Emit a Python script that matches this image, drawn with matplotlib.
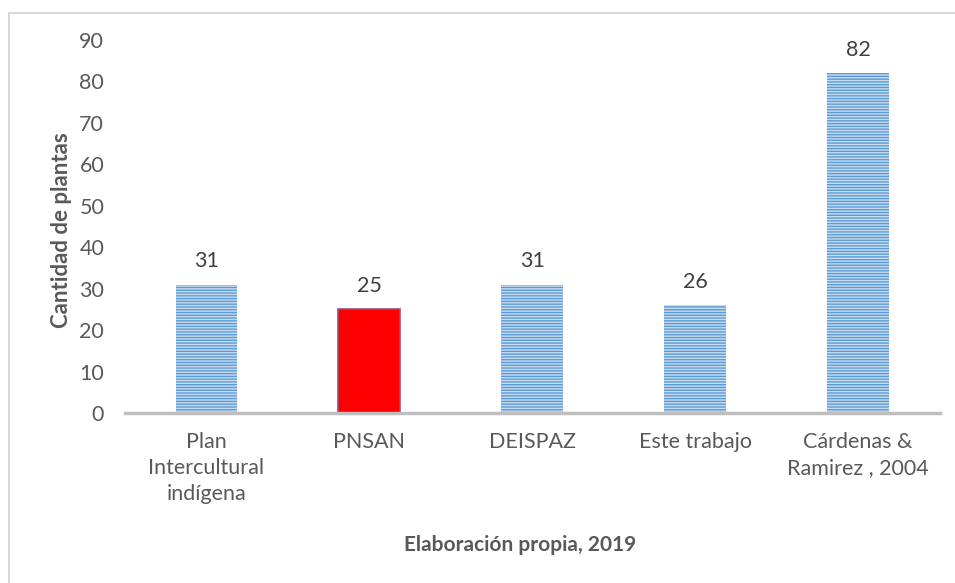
import matplotlib.pyplot as plt
from matplotlib.patches import Rectangle

# data
categories = ['Plan\nIntercultural\nindígena', 'PNSAN', 'DEISPAZ', 'Este trabajo',
              'Cárdenas &\nRamirez , 2004']
plant_counts = [31, 25, 31, 26, 82]
y_ticks = [0, 10, 20, 30, 40, 50, 60, 70, 80, 90]

plt.rcParams['font.family'] = ['Lato', 'DejaVu Sans']

fig = plt.figure(figsize=(9.55, 5.83), dpi=100)
ax = fig.add_axes([0.1309, 0.2916, 0.853, 0.6398])

# outer chart border (only top and left visible in the reference)
fig.patches.append(Rectangle((9 / 955, -0.1), 1.2, 1 - 13 / 583 + 0.1,
                             transform=fig.transFigure, fill=False,
                             edgecolor='#D9D9D9', linewidth=1.5))

x = range(len(categories))
bars = ax.bar(x, plant_counts, width=0.38, color='#C9DDF1', edgecolor='#5B9BD5',
              hatch='------', linewidth=0)
# the PNSAN bar is highlighted in red
bars[1].set_facecolor('#FF0000')
bars[1].set_hatch(None)
bars[1].set_edgecolor('#9A4F7A')
bars[1].set_linewidth(1.2)

for xi, v in zip(x, plant_counts):
    ax.text(xi, v + 3.2, str(v), ha='center', va='bottom', fontsize=15.5, color='#404040')

ax.set_xlim(-0.5, 4.5)
ax.set_ylim(0, 90)
ax.set_yticks(y_ticks)
ax.set_xticks(list(x))
ax.set_xticklabels(categories, fontsize=15.5, color='#595959', linespacing=1.35)
ax.tick_params(axis='y', labelsize=15.5, labelcolor='#595959', length=0, pad=15)
ax.tick_params(axis='x', length=0, pad=14)

for side in ['top', 'right', 'left']:
    ax.spines[side].set_visible(False)
ax.spines['bottom'].set_color('#BFBFBF')
ax.spines['bottom'].set_linewidth(2.5)

# axis titles
fig.text(62 / 955, 1 - 230 / 583, 'Cantidad de plantas', rotation=90, ha='center',
         va='center', fontsize=16, fontweight='bold', color='#595959')
fig.text(0.545, 1 - 545 / 583, 'Elaboración propia, 2019', ha='center', va='center',
         fontsize=15, fontweight='bold', color='#595959')

fig.savefig('out.png', dpi=100)
